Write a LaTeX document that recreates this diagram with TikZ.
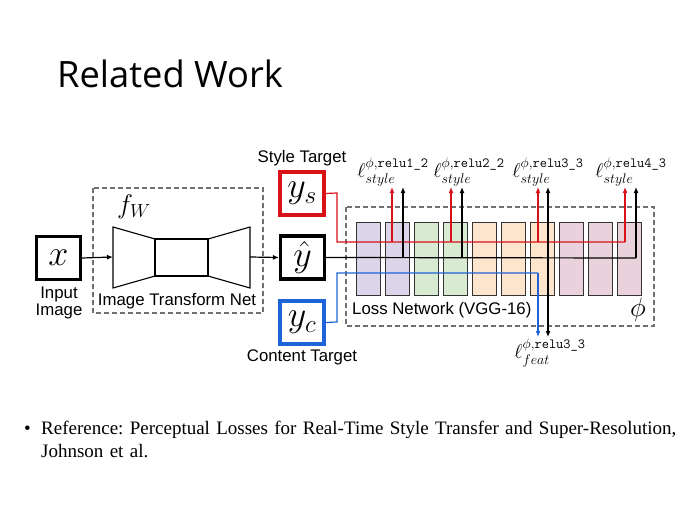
\RequirePackage{fix-cm}
\documentclass[tikz,border=0pt]{standalone}
\usepackage{amsmath}
\usepackage{fontspec}
\setmainfont{Liberation Serif}
\newfontfamily\titlefont{Open Sans}
\newfontfamily\diagfont{Liberation Sans}
\usetikzlibrary{arrows.meta}
\definecolor{redc}{HTML}{D9121A}
\definecolor{bluec}{HTML}{1F63D8}
\definecolor{dashc}{HTML}{707070}
\definecolor{vpurple}{HTML}{DCD4E8}
\definecolor{vgreen}{HTML}{D8EAD2}
\definecolor{vorange}{HTML}{FCE5CC}
\definecolor{vpink}{HTML}{EAD2DC}
\frenchspacing
\begin{document}
\begin{tikzpicture}[x=1pt,y=-1pt,
  mbox/.style={draw,line width=3.1pt,minimum width=44pt,minimum height=43pt,inner sep=0pt,font=\fontsize{36}{36}\selectfont},
  dbox/.style={draw=dashc,dashed,line width=1.1pt,dash pattern=on 5pt off 3pt},
  vblock/.style={draw=black!80,line width=1pt,minimum width=24pt,minimum height=73pt,inner sep=0pt},
  conn/.style={line width=1.2pt},
  arr/.style={conn,-{Latex[length=6pt,width=5pt]}},
  lbl/.style={font=\diagfont\fontsize{16.8}{19.5}\selectfont,inner sep=0pt,align=center},
  ellbl/.style={font=\fontsize{20}{22}\selectfont,inner sep=0pt}]
\useasboundingbox[fill=white] (0,0) rectangle (699,524);
% title
\node[font=\titlefont\fontsize{36.3}{40}\selectfont,anchor=base west,inner sep=0pt] (title) at (57,88) {Related Work};
% dashed boxes
\draw[dbox] (93,188) rectangle (263,313);
\draw[dbox] (346,207) rectangle (654,326);
% input
\node[mbox] (x) at (58.5,258) {$x$};
\node[lbl] (inlbl) at (59,303) {Input\\[-2pt]Image};
% transform net
\coordinate (encL) at (113,257);
\coordinate (decR) at (250,257);
\draw[line width=1.1pt] (113,227) -- (155,239) -- (155,276) -- (113,288) -- cycle;
\draw[line width=1.1pt] (155,239) rectangle (208,276);
\draw[line width=1.1pt] (208,239) -- (250,227) -- (250,288) -- (208,276) -- cycle;
\node[font=\fontsize{27}{27}\selectfont] (fw) at (134,207) {$f_W$};
\node[lbl] (itn) at (177,301) {Image Transform Net};
% targets
\node[mbox] (yhat) at (302.5,257.5) {$\hat{y}$};
\node[mbox,draw=redc] (ys) at (302,193.5) {$y_s$};
\node[mbox,draw=bluec] (yc) at (302,322.5) {$y_c$};
\node[lbl] (stl) at (302,158) {Style Target};
\node[lbl] (ctl) at (302,357) {Content Target};
% vgg blocks
\foreach \i/\c in {1/vpurple,2/vpurple,3/vgreen,4/vgreen,5/vorange,6/vorange,7/vorange,8/vpink,9/vpink,10/vpink}{
  \node[vblock,fill=\c] (b\i) at ({368.7+29*(\i-1)},258.5) {};
}
\node[lbl,anchor=west] (lossl) at (352,310) {Loss Network (VGG-16)};
\node[font=\fontsize{27}{27}\selectfont,inner sep=0pt] (phi) at (638,310) {$\phi$};
% arrows input
\draw[arr] (x.east) -- (encL);
\draw[arr] (decR) -- (yhat.west);
% labels
\node[ellbl] (l1) at (393,172) {$\ell^{\phi,\texttt{relu1\_2}}_{style}$};
\node[ellbl] (l2) at (469,172) {$\ell^{\phi,\texttt{relu2\_2}}_{style}$};
\node[ellbl] (l3) at (548,172) {$\ell^{\phi,\texttt{relu3\_3}}_{style}$};
\node[ellbl] (l4) at (631,172) {$\ell^{\phi,\texttt{relu4\_3}}_{style}$};
\node[ellbl] (lf) at (550,353) {$\ell^{\phi,\texttt{relu3\_3}}_{feat}$};
% red
\coordinate (r0) at (337,193);
\coordinate (r1) at (337,242);
\coordinate (rend) at (625,242);
\draw[conn,redc] (ys.east) -- (r0) -- (r1) -- (rend);
\foreach \xx in {392,451,538,625}{
  \draw[arr,redc] (\xx,242) -- (\xx,187);
}
% black
\coordinate (kend) at (636,258);
\draw[conn] (yhat.east) -- (kend);
\foreach \xx in {403,462,636}{
  \draw[arr] (\xx,258) -- (\xx,187);
}
\draw[conn,{Latex[length=6pt,width=5pt]}-{Latex[length=6pt,width=5pt]}] (548,337) -- (548,187);
% blue
\coordinate (c0) at (337,322);
\coordinate (c1) at (337,273);
\coordinate (c2) at (538,273);
\coordinate (c3) at (538,337);
\draw[conn,bluec] (yc.east) -- (c0) -- (c1) -- (c2);
\draw[arr,bluec] (c2) -- (c3);
% reference text
\node[font=\fontsize{19}{23}\selectfont,anchor=base west,inner sep=0pt] (bul) at (24,434) {\textbullet};
\node[font=\fontsize{19}{23}\selectfont,anchor=base west,inner sep=0pt,align=left,text width=660pt] (ref) at (41,434) {Reference: Perceptual Losses for Real-Time Style Transfer and Super-Resolution,\\Johnson et al.};
\end{tikzpicture}
\end{document}
